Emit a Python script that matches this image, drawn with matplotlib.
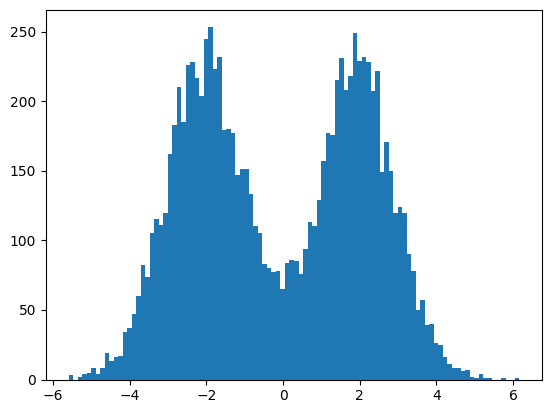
import numpy as np
import matplotlib
matplotlib.use("Agg")
import matplotlib.pyplot as plt

# Histogram: 100 bins between data min and max
data_min = -5.60
data_max = 6.17
counts = [3, 0, 2, 4, 5, 8, 4, 8, 19, 13,
          16, 17, 34, 37, 47, 60, 82, 74, 105, 115,
          111, 120, 162, 183, 210, 185, 226, 228, 217, 204,
          245, 253, 223, 232, 179, 180, 177, 147, 151, 151,
          133, 110, 105, 83, 80, 77, 78, 65, 84, 86,
          85, 76, 94, 113, 110, 129, 157, 177, 176, 215,
          231, 208, 218, 249, 229, 232, 228, 207, 222, 149,
          171, 150, 120, 124, 120, 90, 78, 50, 57, 39,
          40, 26, 25, 16, 11, 8, 8, 6, 7, 2,
          1, 4, 1, 1, 0, 0, 1, 0, 0, 1]

edges = np.linspace(data_min, data_max, len(counts) + 1)

fig = plt.figure(figsize=(5.52, 4.13), dpi=100)
ax = fig.add_axes([46 / 552, 33.5 / 413, 496 / 552, 369.6 / 413])
ax.hist(edges[:-1], bins=edges, weights=counts, color="#1f77b4")
fig.savefig("out.png", dpi=100)
